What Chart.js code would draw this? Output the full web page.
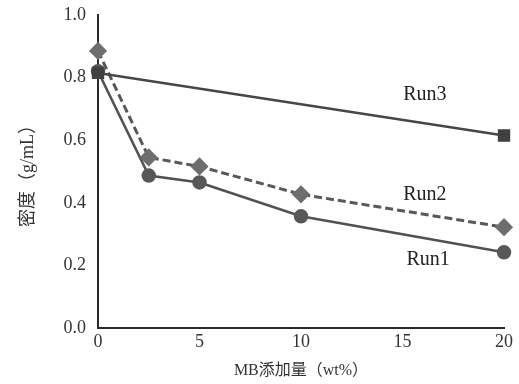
<!DOCTYPE html>
<html><head><meta charset="utf-8">
<script src="https://cdn.jsdelivr.net/npm/chart.js@4/dist/chart.umd.min.js"></script>
<style>html,body{margin:0;padding:0;background:#fff;}#c{display:block;}</style>
</head><body>
<canvas id="c" width="519" height="384"></canvas>
<script>
const xValues = [0, 2.5, 5, 10, 20];
const run1 = [0.82, 0.487, 0.465, 0.357, 0.242];
const run2 = [0.885, 0.545, 0.516, 0.427, 0.322];
const run3X = [0, 20];
const run3 = [0.815, 0.615];
const seriesNames = ['Run1', 'Run2', 'Run3'];
const labelPos = [[16.26, 0.217], [16.1, 0.425], [16.1, 0.744]]; // data coords for series labels
const xTicks = [0, 5, 10, 15, 20];
const yTicks = [0, 0.2, 0.4, 0.6, 0.8, 1.0];
const xTitle = 'MB添加量（wt%）';
const yTitle = '密度（g/mL）';

const serif = "'Liberation Serif', 'DejaVu Serif', 'Noto Sans CJK JP', serif";
const toPts = (xs, ys) => xs.map((x, i) => ({x: x, y: ys[i]}));

const seriesLabels = {
  id: 'seriesLabels',
  afterDatasetsDraw(chart) {
    const ctx = chart.ctx, xs = chart.scales.x, ys = chart.scales.y;
    ctx.save();
    ctx.font = "20px " + serif;
    ctx.fillStyle = '#222';
    ctx.textAlign = 'center';
    ctx.textBaseline = 'middle';
    seriesNames.forEach((n, i) => {
      ctx.fillText(n, xs.getPixelForValue(labelPos[i][0]), ys.getPixelForValue(labelPos[i][1]));
    });
    ctx.restore();
  }
};

new Chart(document.getElementById('c'), {
  type: 'scatter',
  data: {
    datasets: [
      {label: 'Run3', data: toPts(run3X, run3), showLine: true, borderColor: '#474747', borderWidth: 2.5,
       pointStyle: 'rect', pointRadius: 7, pointBackgroundColor: '#404040', pointBorderColor: '#404040', clip: false},
      {label: 'Run2', data: toPts(xValues, run2), showLine: true, borderColor: '#585858', borderWidth: 3, borderDash: [8, 4],
       pointStyle: 'rectRot', pointRadius: 7, pointBackgroundColor: '#6e6e6e', pointBorderColor: '#6e6e6e', clip: false},
      {label: 'Run1', data: toPts(xValues, run1), showLine: true, borderColor: '#525252', borderWidth: 2.5,
       pointStyle: 'circle', pointRadius: 6, pointBackgroundColor: '#585858', pointBorderColor: '#585858', clip: false}
    ]
  },
  plugins: [seriesLabels],
  options: {
    responsive: false,
    animation: false,
    layout: {padding: {top: 15, right: 15, left: 0, bottom: 0}},
    plugins: {legend: {display: false}, tooltip: {enabled: false}},
    scales: {
      x: {
        type: 'linear', min: 0, max: 20,
        afterBuildTicks: s => { s.ticks = xTicks.map(v => ({value: v})); },
        afterFit: s => { s.height = 56; s.paddingLeft = 0; s.paddingRight = 0; },
        grid: {display: false, drawTicks: false},
        border: {display: true, color: '#2a2a2a', width: 2},
        ticks: {padding: 3, color: '#333', font: {family: serif, size: 18}},
        title: {display: true, text: xTitle, color: '#333', font: {family: serif, size: 16}, padding: {top: 4}}
      },
      y: {
        type: 'linear', min: 0, max: 1,
        afterBuildTicks: s => { s.ticks = yTicks.map(v => ({value: v})); },
        afterFit: s => { s.width = 98; s.paddingTop = 0; s.paddingBottom = 0; },
        grid: {display: false, drawTicks: false},
        border: {display: true, color: '#2a2a2a', width: 2},
        ticks: {padding: 12, color: '#333', font: {family: serif, size: 18}, callback: v => Number(v).toFixed(1)},
        title: {display: true, text: yTitle, color: '#333', font: {family: serif, size: 18}, padding: {top: 17, bottom: 0}}
      }
    }
  }
});
</script>
</body></html>
